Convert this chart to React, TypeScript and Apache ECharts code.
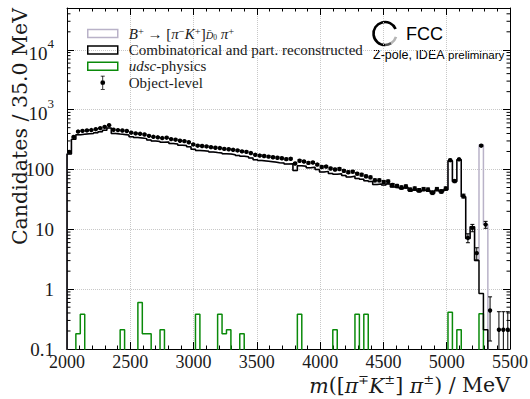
import React, { useEffect, useRef } from 'react';
import * as echarts from 'echarts';

// ---- axis ranges ----
const X_MIN = 2000;
const X_MAX = 5500;
const BIN_WIDTH = 35;
const Y_MIN = 0.1;
const Y_MAX = 50000;
const FLOOR = 1e-3; // empty bins on the log axis (drawn below the frame, clipped)
const EVENT_WEIGHT = 0.21; // per-event weight of the object-level sample (for error bars)

// ---- data (100 bins of 35 MeV from 2000 to 5500 MeV) ----
const combinatorial: number[] = [
  182, 320, 380, 388, 395, 400, 412, 428, 452, 495,
  400, 392, 386, 378, 352, 342, 336, 328, 310, 298,
  293, 284, 289, 272, 266, 255, 251, 240, 218, 208,
  205, 202, 196, 192, 189, 183, 181, 177, 172, 167,
  163, 156, 146, 142, 139, 136, 133, 130, 128, 124,
  125, 96, 116, 113, 107, 109, 100, 91, 93, 86,
  83, 85, 79, 75, 77, 71, 69, 65, 63, 56,
  57, 55, 57, 51, 50, 48, 50, 44, 46, 43,
  45, 44, 40, 45, 42, 46, 140, 63, 146, 35,
  7.0, 11, 3.0, 0.85, 0.21, 0, 0, 0, 0, 0,
];

const objectLevel: (number | null)[] = [
  197, 350, 430, 442, 450, 456, 472, 490, 515, 550,
  462, 455, 448, 440, 412, 400, 395, 384, 365, 352,
  345, 335, 340, 322, 315, 302, 298, 285, 262, 250,
  247, 243, 236, 231, 228, 221, 218, 213, 208, 201,
  197, 188, 176, 171, 168, 164, 160, 157, 154, 149,
  151, 126, 140, 136, 129, 131, 121, 110, 112, 104,
  100, 102, 95, 90, 92, 85, 82, 77, 74, 66,
  66, 62, 63, 55, 53, 50, 52, 46, 48, 45,
  47, 46, 41, 47, 43, 48, 143, 64, 148, 36,
  7.2, 10.6, 4.0, 250, 12, 0.44, null, 0.21, 0.21, 0.21,
];

const signalBins: number[] = [93, 94];
const signalValues: number[] = [257, 11.8];

const udscBins: number[] = [2, 3, 12, 16, 17, 18, 21, 29, 34, 35, 36, 39, 52, 60, 65, 67, 86, 88, 93];
const udscValues: number[] = [0.18, 0.38, 0.21, 0.6, 0.18, 0.18, 0.21, 0.38, 0.38, 0.18, 0.21, 0.18, 0.38, 0.21, 0.38, 0.38, 0.41, 0.21, 0.39];

// ---- texts ----
const Y_TITLE = 'Candidates / 35.0 MeV';
const X_TITLE = '{i|m}{n|([}{i|π}{s|∓}{i|K}{s|±}{n|] }{i|π}{s|±}{n|) / MeV}';

// ---- styles ----
const SERIF = '"Liberation Serif", "DejaVu Serif", serif';
const TITLE_SERIF = '"DejaVu Serif", "Liberation Serif", serif';
const SANS = '"Liberation Sans", Arial, sans-serif';
const TEXT = '#1a1a1a';
const SIG_COLOR = '#b9b2c8';
const COMB_COLOR = '#000000';
const UDSC_COLOR = '#0a8a0a';

const NBINS = combinatorial.length;
const edgeOf = (k: number) => X_MIN + k * BIN_WIDTH;

function expand(bins: number[], vals: number[]): number[] {
  const out = new Array(NBINS).fill(0);
  bins.forEach((b, i) => { out[b] = vals[i]; });
  return out;
}

function stepData(vals: number[]): [number, number][] {
  const pts: [number, number][] = [[X_MIN, FLOOR]];
  vals.forEach((v, k) => pts.push([edgeOf(k), v > 0 ? v : FLOOR]));
  const last = vals[vals.length - 1];
  pts.push([X_MAX, last > 0 ? last : FLOOR]);
  pts.push([X_MAX, FLOOR]);
  return pts;
}

const signalFull = expand(signalBins, signalValues);
const udscFull = expand(udscBins, udscValues);
const stackTotal = combinatorial.map((v, k) => v + signalFull[k]);

const objData: number[][] = [];
objectLevel.forEach((v, k) => {
  if (v == null) return;
  const err = Math.sqrt(v * EVENT_WEIGHT);
  const lo = v - err > 0 ? v - err : FLOOR;
  objData.push([edgeOf(k) + BIN_WIDTH / 2, v, lo, v + err]);
});

const yMinorTicks: number[] = [];
for (let e = -1; e <= 4; e++) {
  for (let m = 2; m <= 9; m++) {
    const v = m * Math.pow(10, e);
    if (v < Y_MAX) yMinorTicks.push(v);
  }
}

const RECT_ICON = 'path://M0,0H30V8H0Z';
const ERR_ICON = 'path://M3,0H7V0.8H5.4V13.2H7V14H3V13.2H4.6V0.8H3Z M5,4.6A2.4,2.4 0 1 1 5,9.4A2.4,2.4 0 1 1 5,4.6Z';

const legendLabels: Record<string, string> = {
  sig: '{g|}{i|B}{s|+}{n| → [}{i|π}{s|−}{i|K}{s|+}{n|]}{d|D\u0304}{ds|0}{n| }{i|π}{s|+}',
  comb: '{g|}{n|Combinatorical and part. reconstructed}',
  udsc: '{g|}{i|udsc}{n|-physics}',
  obj: '{g|}{n|Object-level}',
};

const LH = 15;
const LFS = 15;

function buildOption(): any {
  const tickLine = { color: '#000', width: 1 };
  return {
    animation: false,
    backgroundColor: '#ffffff',
    grid: { left: 67, right: 20, top: 8, bottom: 50, containLabel: false, outerBoundsMode: 'none' },
    legend: {
      orient: 'vertical',
      left: 87,
      top: 26,
      padding: 0,
      itemWidth: 30,
      itemHeight: 14,
      itemGap: 1.4,
      selectedMode: false,
      formatter: (name: string) => legendLabels[name] || name,
      textStyle: {
        fontFamily: SERIF,
        fontSize: LFS,
        color: TEXT,
        lineHeight: LH,
        rich: {
          g: { width: 6, lineHeight: LH },
          n: { fontFamily: SERIF, fontSize: LFS, color: TEXT, lineHeight: LH },
          i: { fontFamily: SERIF, fontSize: LFS, color: TEXT, fontStyle: 'italic', lineHeight: LH },
          s: { fontFamily: SERIF, fontSize: 10.5, color: TEXT, verticalAlign: 'top', lineHeight: 10 },
          d: { fontFamily: SERIF, fontSize: 10.5, color: TEXT, fontStyle: 'italic', verticalAlign: 'bottom', lineHeight: 10 },
          ds: { fontFamily: SERIF, fontSize: 7.5, color: TEXT, verticalAlign: 'bottom', lineHeight: 13 },
        },
      },
      data: [
        { name: 'sig', icon: RECT_ICON, itemStyle: { color: 'rgba(0,0,0,0)', borderColor: SIG_COLOR, borderWidth: 1.5 } },
        { name: 'comb', icon: RECT_ICON, itemStyle: { color: 'rgba(0,0,0,0)', borderColor: COMB_COLOR, borderWidth: 1.5 } },
        { name: 'udsc', icon: RECT_ICON, itemStyle: { color: 'rgba(0,0,0,0)', borderColor: UDSC_COLOR, borderWidth: 1.5 } },
        { name: 'obj', icon: ERR_ICON, itemStyle: { color: '#000', borderWidth: 0 } },
      ],
    },
    xAxis: [
      {
        type: 'value',
        min: X_MIN,
        max: X_MAX,
        interval: 500,
        position: 'bottom',
        axisLine: { show: true, onZero: false, lineStyle: tickLine },
        axisTick: { show: true, inside: true, length: 7, lineStyle: tickLine },
        minorTick: { show: true, splitNumber: 5, length: 3.5, lineStyle: tickLine },
        splitLine: { show: true, lineStyle: { color: '#c8c8c8', type: 'dotted', width: 1 } },
        axisLabel: {
          show: true,
          margin: 4,
          showMinLabel: true,
          showMaxLabel: true,
          hideOverlap: false,
          formatter: (v: number) => String(v),
          fontFamily: SERIF,
          fontSize: 18,
          lineHeight: 18,
          color: TEXT,
        },
      },
      {
        type: 'value',
        min: X_MIN,
        max: X_MAX,
        interval: 500,
        position: 'top',
        axisLine: { show: true, onZero: false, lineStyle: tickLine },
        axisTick: { show: true, inside: true, length: 7, lineStyle: tickLine },
        minorTick: { show: true, splitNumber: 5, length: 3.5, lineStyle: tickLine },
        splitLine: { show: false },
        axisLabel: { show: false },
      },
    ],
    yAxis: [
      {
        type: 'log',
        min: Y_MIN,
        max: Y_MAX,
        logBase: 10,
        position: 'left',
        axisLine: { show: true, onZero: false, lineStyle: tickLine },
        axisTick: { show: true, inside: true, length: 7, lineStyle: tickLine },
        minorTick: { show: false },
        splitLine: { show: true, lineStyle: { color: '#c8c8c8', type: 'dotted', width: 1 } },
        axisLabel: {
          show: true,
          margin: 13,
          showMinLabel: true,
          showMaxLabel: true,
          hideOverlap: false,
          formatter: (v: number) => {
            const e = Math.log10(v);
            const r = Math.round(e);
            if (Math.abs(e - r) > 1e-6) return '';
            if (r >= 3) return `{b|10}{s|${r}}`;
            return `{p|${v}}`;
          },
          rich: {
            p: { fontFamily: SERIF, fontSize: 19, color: TEXT, lineHeight: 20 },
            b: { fontFamily: SERIF, fontSize: 19, color: TEXT, verticalAlign: 'bottom', lineHeight: 26 },
            s: { fontFamily: SERIF, fontSize: 13, color: TEXT, verticalAlign: 'top', lineHeight: 13 },
          },
        },
      },
      {
        type: 'log',
        min: Y_MIN,
        max: Y_MAX,
        logBase: 10,
        position: 'right',
        axisLine: { show: true, onZero: false, lineStyle: tickLine },
        axisTick: { show: true, inside: true, length: 7, lineStyle: tickLine },
        splitLine: { show: false },
        axisLabel: { show: false },
      },
    ],
    series: [
      {
        name: 'sig',
        type: 'line',
        step: 'end',
        symbol: 'none',
        showSymbol: false,
        clip: true,
        z: 2,
        data: stepData(stackTotal),
        itemStyle: { color: SIG_COLOR },
        lineStyle: { color: SIG_COLOR, width: 1.5 },
      },
      {
        name: 'udsc',
        type: 'line',
        step: 'end',
        symbol: 'none',
        showSymbol: false,
        clip: true,
        z: 3,
        data: stepData(udscFull),
        itemStyle: { color: UDSC_COLOR },
        lineStyle: { color: UDSC_COLOR, width: 1.5 },
      },
      {
        name: 'comb',
        type: 'line',
        step: 'end',
        symbol: 'none',
        showSymbol: false,
        clip: true,
        z: 4,
        data: stepData(combinatorial),
        itemStyle: { color: COMB_COLOR },
        lineStyle: { color: COMB_COLOR, width: 1.5 },
      },
      {
        name: 'obj',
        type: 'custom',
        clip: true,
        z: 5,
        itemStyle: { color: '#000' },
        encode: { x: 0, y: 1 },
        data: objData,
        renderItem: (_p: any, api: any) => {
          const x = api.value(0);
          const v = api.value(1);
          const pc = api.coord([x, v]);
          const pl = api.coord([x, api.value(2)]);
          const ph = api.coord([x, api.value(3)]);
          const cap = 2;
          const st = { stroke: '#000', lineWidth: 1 };
          return {
            type: 'group',
            children: [
              { type: 'line', shape: { x1: pc[0], y1: pl[1], x2: pc[0], y2: ph[1] }, style: st },
              { type: 'line', shape: { x1: pc[0] - cap, y1: ph[1], x2: pc[0] + cap, y2: ph[1] }, style: st },
              { type: 'line', shape: { x1: pc[0] - cap, y1: pl[1], x2: pc[0] + cap, y2: pl[1] }, style: st },
              { type: 'circle', shape: { cx: pc[0], cy: pc[1], r: 2.2 }, style: { fill: '#000' } },
            ],
          };
        },
      },
      {
        name: 'yMinorTicks',
        type: 'custom',
        silent: true,
        z: 6,
        encode: { x: 0, y: 1 },
        data: yMinorTicks.map((v) => [X_MIN, v]),
        renderItem: (_p: any, api: any) => {
          const v = api.value(1);
          const a = api.coord([X_MIN, v]);
          const b = api.coord([X_MAX, v]);
          const st = { stroke: '#000', lineWidth: 1 };
          return {
            type: 'group',
            children: [
              { type: 'line', shape: { x1: a[0], y1: a[1], x2: a[0] + 3.5, y2: a[1] }, style: st },
              { type: 'line', shape: { x1: b[0] - 3.5, y1: b[1], x2: b[0], y2: b[1] }, style: st },
            ],
          };
        },
      },
    ],
    graphic: [
      // axis titles
      {
        type: 'text',
        x: 20,
        y: 8,
        rotation: Math.PI / 2,
        style: { text: Y_TITLE, fontFamily: TITLE_SERIF, fontSize: 20.5, fill: TEXT, align: 'right', verticalAlign: 'middle' },
      },
      {
        type: 'text',
        x: 510,
        y: 384,
        style: {
          text: X_TITLE,
          align: 'right',
          verticalAlign: 'middle',
          rich: {
            n: { fontFamily: TITLE_SERIF, fontSize: 20.5, fill: TEXT, verticalAlign: 'bottom', lineHeight: 23 },
            i: { fontFamily: TITLE_SERIF, fontSize: 20.5, fill: TEXT, fontStyle: 'italic', verticalAlign: 'bottom', lineHeight: 23 },
            s: { fontFamily: TITLE_SERIF, fontSize: 13, fill: TEXT, verticalAlign: 'top', lineHeight: 11 },
          },
        },
      },
      // FCC logo
      {
        type: 'arc',
        shape: { cx: 385, cy: 33.5, r: 11.5, startAngle: -0.4, endAngle: Math.PI / 2, clockwise: false },
        style: { stroke: '#000', lineWidth: 2.6, fill: 'none' },
      },
      {
        type: 'arc',
        shape: { cx: 385, cy: 33.5, r: 11.5, startAngle: Math.PI / 2, endAngle: 1.0, clockwise: false },
        style: { stroke: '#555', lineWidth: 2.6, fill: 'none' },
      },
      {
        type: 'arc',
        shape: { cx: 385, cy: 33.5, r: 11.5, startAngle: 1.0, endAngle: 0.3, clockwise: false },
        style: { stroke: '#b5b5b5', lineWidth: 2.6, fill: 'none' },
      },
      {
        type: 'text',
        x: 406,
        y: 34,
        style: { text: 'FCC', fontFamily: SANS, fontSize: 18, fill: '#000', verticalAlign: 'middle', align: 'left' },
      },
      {
        type: 'text',
        x: 373,
        y: 55,
        style: {
          text: '{a|Z-pole, IDEA }{b|preliminary}',
          verticalAlign: 'middle',
          align: 'left',
          rich: {
            a: { fontFamily: SANS, fontSize: 12.5, fill: '#000' },
            b: { fontFamily: SANS, fontSize: 11.5, fill: '#000' },
          },
        },
      },
    ],
  };
}

export default function App() {
  const ref = useRef<HTMLDivElement>(null);
  useEffect(() => {
    if (!ref.current) return;
    const chart = echarts.init(ref.current, null, { renderer: 'svg' });
    chart.setOption(buildOption());
    return () => chart.dispose();
  }, []);
  return (
    <div
      ref={ref}
      style={{ position: 'fixed', left: 0, top: 0, width: 530, height: 399, background: '#fff' }}
    />
  );
}
